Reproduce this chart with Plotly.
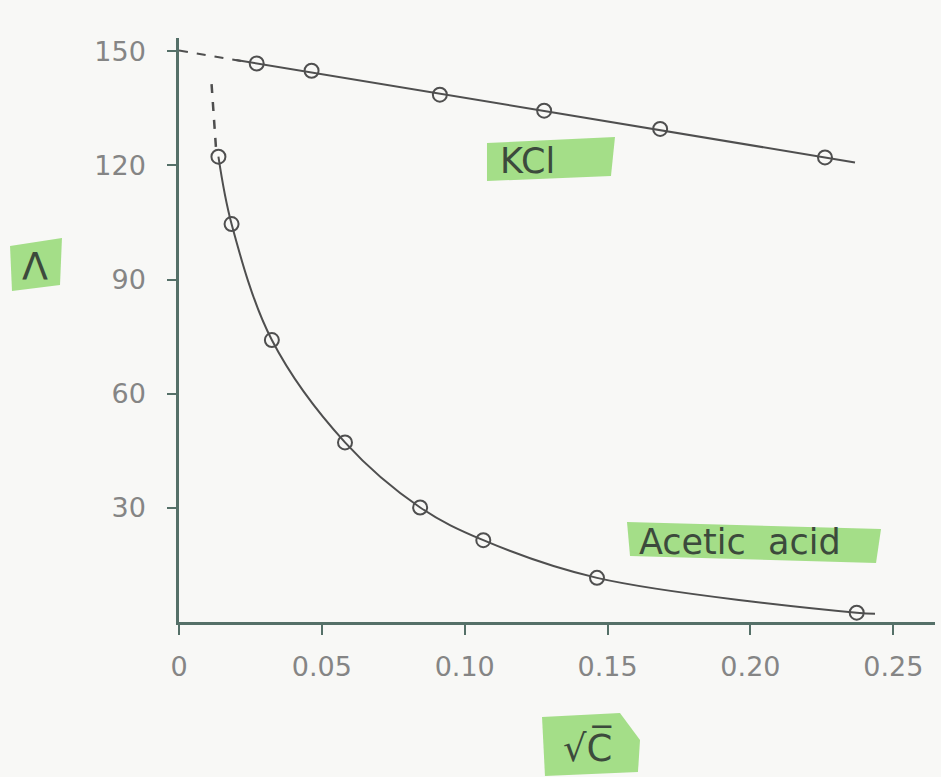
import plotly.graph_objects as go

# ---- data ----
kcl_x = [0.0272, 0.0464, 0.0913, 0.1278, 0.1684, 0.2261]
kcl_y = [146.8, 144.9, 138.6, 134.4, 129.6, 122.1]
kcl_fit_x = [0.020, 0.2366]
kcl_fit_y = [147.7, 120.8]
kcl_extrap_x = [0.0, 0.024]
kcl_extrap_y = [150.2, 147.2]

acid_x = [0.0138, 0.0184, 0.0325, 0.0581, 0.0844, 0.1065, 0.1463, 0.2372]
acid_y = [122.3, 104.6, 74.1, 47.2, 30.1, 21.5, 11.6, 2.45]
acid_curve_x = [0.0138, 0.0184, 0.0325, 0.0581, 0.0844, 0.1065, 0.1463, 0.2372, 0.2436]
acid_curve_y = [122.3, 104.6, 74.1, 47.2, 30.1, 21.5, 11.6, 2.45, 2.2]
acid_extrap_x = [0.0114, 0.0130]
acid_extrap_y = [141.4, 124.0]

x_ticks = [0, 0.05, 0.10, 0.15, 0.20, 0.25]
x_tick_text = ["0", "0.05", "0.10", "0.15", "0.20", "0.25"]
y_ticks = [30, 60, 90, 120, 150]
y_tick_text = ["30", "60", "90", "120", "150"]

# ---- layout geometry (pixels) ----
W, H = 941, 777
L, R, T, B = 179, 6, 38, 155
PW, PH = W - L - R, H - T - B

def px(x):
    return (x - L) / PW

def py(y):
    return (H - B - y) / PH

bg = "#f8f8f6"
line_col = "#4f4f4f"
axis_col = "#557068"
hl = "rgba(140,214,105,0.78)"
txt_col = "#3c4a3c"
tick_col = "#858585"

fig = go.Figure()

fig.add_trace(go.Scatter(x=kcl_extrap_x, y=kcl_extrap_y, mode="lines",
                         line=dict(color=line_col, width=2, dash="dash"), showlegend=False))
fig.add_trace(go.Scatter(x=kcl_fit_x, y=kcl_fit_y, mode="lines",
                         line=dict(color=line_col, width=2), showlegend=False))
fig.add_trace(go.Scatter(x=kcl_x, y=kcl_y, mode="markers",
                         marker=dict(symbol="circle-open", size=14, color=line_col, line=dict(width=2)),
                         showlegend=False))

fig.add_trace(go.Scatter(x=acid_extrap_x, y=acid_extrap_y, mode="lines",
                         line=dict(color=line_col, width=2.5, dash="dash"), showlegend=False))
fig.add_trace(go.Scatter(x=acid_curve_x, y=acid_curve_y, mode="lines",
                         line=dict(color=line_col, width=2, shape="spline", smoothing=1.0),
                         showlegend=False))
fig.add_trace(go.Scatter(x=acid_x, y=acid_y, mode="markers",
                         marker=dict(symbol="circle-open", size=14, color=line_col, line=dict(width=2)),
                         showlegend=False))

# highlight shapes (marker-pen style)
def poly(points):
    return "M " + " L ".join(f"{px(a):.4f},{py(b):.4f}" for a, b in points) + " Z"

highlights = [
    [(487, 143), (615, 137), (611, 176), (487, 181)],
    [(627, 522), (881, 529), (876, 563), (630, 556)],
    [(10, 246), (62, 238), (60, 285), (12, 291)],
    [(542, 717), (620, 713), (640, 740), (638, 772), (545, 776)],
]
shapes = [dict(type="path", xref="paper", yref="paper", path=poly(p),
               fillcolor=hl, line=dict(width=0), layer="below") for p in highlights]

annos = [
    dict(text="KCl", x=px(527), y=py(161), size=35),
    dict(text="Acetic  acid", x=px(740), y=py(542), size=35),
    dict(text="Λ", x=px(35), y=py(266), size=38),
    dict(text="√C\u0305", x=px(587), y=py(747), size=37),
]
annotations = [dict(text=a["text"], x=a["x"], y=a["y"], xref="paper", yref="paper",
                    showarrow=False, xanchor="center", yanchor="middle",
                    font=dict(family="DejaVu Sans", size=a["size"], color=txt_col))
               for a in annos]

fig.update_layout(
    width=W, height=H,
    margin=dict(l=L, r=R, t=T, b=B),
    paper_bgcolor=bg, plot_bgcolor=bg,
    shapes=shapes, annotations=annotations,
    xaxis=dict(range=[0, 0.2646], tickvals=x_ticks, ticktext=x_tick_text,
               showgrid=False, zeroline=False, showline=True, linecolor=axis_col, linewidth=2.5,
               ticks="outside", ticklen=10, tickwidth=2, tickcolor=axis_col,
               ticklabelstandoff=9,
               tickfont=dict(family="DejaVu Sans", size=27, color=tick_col)),
    yaxis=dict(range=[0, 153.5], tickvals=y_ticks, ticktext=y_tick_text,
               showgrid=False, zeroline=False, showline=True, linecolor=axis_col, linewidth=2.5,
               ticks="outside", ticklen=9, tickwidth=2, tickcolor=axis_col,
               ticklabelstandoff=16,
               tickfont=dict(family="DejaVu Sans", size=27, color=tick_col)),
)

fig.write_html("out.html", config={"displayModeBar": False},
               post_script="document.body.style.margin='0';document.body.style.background='%s';" % bg)
